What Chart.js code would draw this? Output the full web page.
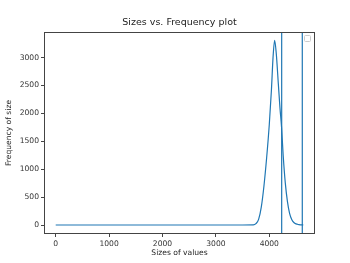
<!DOCTYPE html>
<html>
<head>
<meta charset="utf-8">
<script src="https://cdn.jsdelivr.net/npm/chart.js@4"></script>
<style>
  html,body{margin:0;padding:0;background:#fff;}
  #wrap{width:350px;height:263px;}
</style>
</head>
<body>
<div id="wrap"><canvas id="c" width="350" height="263"></canvas></div>
<script>
// curve
const sizes=[0,500,1000,1500,2000,2500,3000,3500,3700,3750,3800,3850,3900,3950,4000,4040,4070,4100,4130,4170,4200,4230,4260,4300,4340,4380,4420,4460,4500,4550,4600,4637];
const freq =[0,0,0,0,0,0,0,0,2,25,100,320,700,1200,1800,2420,3000,3310,3080,2520,2100,1750,1250,750,420,210,100,45,20,8,3,0];
// the two vertical markers
const markers=[4232,4618];
const xTicks=[0,1000,2000,3000,4000];
const yTicks=[0,500,1000,1500,2000,2500,3000];
const xRange=[-219,4856], yRange=[-161,3459];
const titleText='Sizes vs. Frequency plot';

const BLUE='#1f77b4';
const FONT='"DejaVu Sans", sans-serif';

const frame={
  id:'frame',
  afterDraw(chart){
    const {ctx,chartArea:a}=chart;
    ctx.save();
    ctx.strokeStyle='#444'; ctx.lineWidth=1;
    ctx.strokeRect(Math.round(a.left)+0.5,Math.round(a.top)+0.5,Math.round(a.right-a.left)-1,Math.round(a.bottom-a.top)-1);
    // empty legend box, top right
    ctx.strokeStyle='#ccc';
    ctx.beginPath(); ctx.roundRect(Math.round(a.right)-10.5,Math.round(a.top)+3.5,6,6,1); ctx.stroke();
    // title centred over the axes
    ctx.fillStyle='#222'; ctx.font='9.5px '+FONT; ctx.textAlign='center'; ctx.textBaseline='middle';
    ctx.fillText(titleText,(a.left+a.right)/2,a.top-9);
    ctx.restore();
  }
};

const ds=[{data:sizes.map((s,i)=>({x:s,y:freq[i]})),borderColor:BLUE,borderWidth:1.2,pointRadius:0,cubicInterpolationMode:'monotone',fill:false}];
markers.forEach(m=>ds.push({data:[{x:m,y:yRange[0]},{x:m,y:yRange[1]}],borderColor:BLUE,borderWidth:1.2,pointRadius:0,fill:false}));

new Chart(document.getElementById('c'),{
  type:'line',
  data:{datasets:ds},
  plugins:[frame],
  options:{
    responsive:false,animation:false,
    layout:{padding:{left:4,right:35,top:32,bottom:0}},
    plugins:{legend:{display:false},tooltip:{enabled:false},title:{display:false}},
    scales:{
      x:{type:'linear',min:xRange[0],max:xRange[1],
        afterBuildTicks:s=>{s.ticks=xTicks.map(v=>({value:v}));},
        afterFit:s=>{s.height=29;},
        grid:{drawOnChartArea:false,drawTicks:true,tickLength:3,color:'#444'},
        border:{display:false},
        ticks:{color:'#333',font:{family:FONT,size:7.6},padding:2,maxRotation:0,callback:v=>String(v)},
        title:{display:true,text:'Sizes of values',color:'#222',font:{family:FONT,size:7.6},padding:{top:1,bottom:5}}
      },
      y:{type:'linear',min:yRange[0],max:yRange[1],
        afterBuildTicks:s=>{s.ticks=yTicks.map(v=>({value:v}));},
        afterFit:s=>{s.width=40;},
        grid:{drawOnChartArea:false,drawTicks:true,tickLength:3,color:'#444'},
        border:{display:false},
        ticks:{color:'#333',font:{family:FONT,size:7.6},padding:2,callback:v=>String(v)},
        title:{display:true,text:'Frequency of size',color:'#222',font:{family:FONT,size:7.6},padding:{top:0,bottom:2}}
      }
    }
  }
});
</script>
</body>
</html>
